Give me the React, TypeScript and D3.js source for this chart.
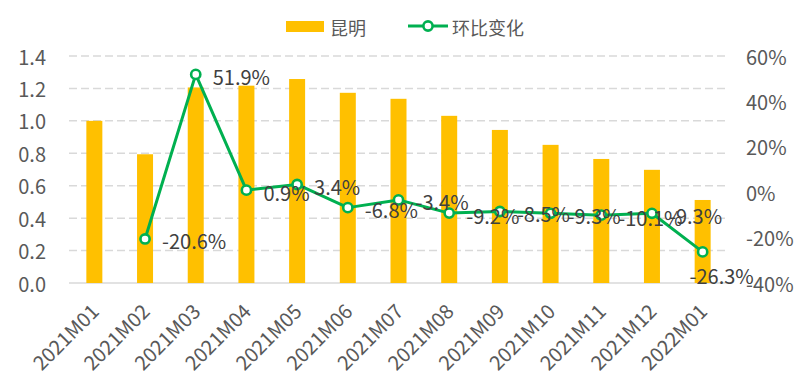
import React from "react";
import * as d3 from "d3";

/* DATA */
const categories = [
  "2021M01", "2021M02", "2021M03", "2021M04", "2021M05", "2021M06", "2021M07",
  "2021M08", "2021M09", "2021M10", "2021M11", "2021M12", "2022M01",
];
const kunming = [1.0, 0.794, 1.206, 1.217, 1.258, 1.173, 1.136, 1.031, 0.944, 0.852, 0.765, 0.698, 0.512];
// 环比变化, first month has no value
const momChange = [null, -0.206, 0.519, 0.009, 0.034, -0.068, -0.034, -0.092, -0.085, -0.093, -0.101, -0.093, -0.263];
const leftTicks = [0, 0.2, 0.4, 0.6, 0.8, 1.0, 1.2, 1.4];
const rightTicks = [-0.4, -0.2, 0, 0.2, 0.4, 0.6];
const seriesNames = ["昆明", "环比变化"];

const W = 799;
const H = 387;
const margin = { top: 56, bottom: 104, left: 69, right: 71 };
const BAR = "#FFC000";
const LINE = "#00B050";
const FONT = "'Noto Sans CJK SC', sans-serif";

function App() {
  const x = d3
    .scaleBand()
    .domain(categories)
    .range([margin.left, W - margin.right])
    .padding(0);
  const yL = d3.scaleLinear().domain([0, 1.4]).range([H - margin.bottom, margin.top]);
  const yR = d3.scaleLinear().domain([-0.4, 0.6]).range([H - margin.bottom, margin.top]);
  const barW = 16;
  const cx = (c: string) => (x(c) as number) + x.bandwidth() / 2;

  const pts = categories
    .map((c, i) => ({ c, v: momChange[i], i }))
    .filter((d) => d.v !== null) as { c: string; v: number; i: number }[];

  const line = d3
    .line<{ c: string; v: number }>()
    .x((d) => cx(d.c))
    .y((d) => yR(d.v));

  const pct = (v: number) => (v * 100).toFixed(1) + "%";
  const x0 = margin.left;
  const x1 = W - margin.right;

  return (
    <svg
      width={W}
      height={H}
      style={{ position: "absolute", left: 0, top: 0, background: "#fff" }}
      fontFamily={FONT}
    >
      {/* gridlines */}
      <g stroke="#D9D9D9" strokeWidth={1.5} strokeDasharray="8,4">
        {leftTicks.slice(1).map((t) => (
          <line key={t} x1={x0} x2={x1} y1={yL(t)} y2={yL(t)} />
        ))}
      </g>
      <line x1={x0} x2={x1} y1={yL(0)} y2={yL(0)} stroke="#D9D9D9" strokeWidth={1.5} />

      {/* left axis labels */}
      <g fill="#595959" fontSize={20} textAnchor="end">
        {leftTicks.map((t) => (
          <text key={t} x={46} y={yL(t)} dominantBaseline="central">
            {t.toFixed(1)}
          </text>
        ))}
      </g>
      {/* right axis labels */}
      <g fill="#595959" fontSize={20} textAnchor="start">
        {rightTicks.map((t) => (
          <text key={t} x={746} y={yR(t)} dominantBaseline="central">
            {Math.round(t * 100) + "%"}
          </text>
        ))}
      </g>

      {/* bars */}
      <g fill={BAR}>
        {categories.map((c, i) => (
          <rect key={c} x={cx(c) - barW / 2} y={yL(kunming[i])} width={barW} height={yL(0) - yL(kunming[i])} />
        ))}
      </g>

      {/* x labels */}
      <g fill="#595959" fontSize={20} textAnchor="end">
        {categories.map((c) => (
          <text key={c} transform={`translate(${cx(c) + 6},313) rotate(-45)`}>
            {c}
          </text>
        ))}
      </g>

      {/* line */}
      <path d={line(pts) || ""} fill="none" stroke={LINE} strokeWidth={3} strokeLinejoin="round" />
      {pts.map((d) => (
        <circle key={d.c} cx={cx(d.c)} cy={yR(d.v)} r={4.6} fill="#fff" stroke={LINE} strokeWidth={2.6} />
      ))}

      {/* data labels */}
      <g fill="#404040" fontSize={20}>
        {pts.map((d) => {
          const last = d.i === categories.length - 1;
          return (
            <text
              key={d.c}
              x={cx(d.c) + (last ? 19 : 17)}
              y={yR(d.v) + (last ? 24 : 2)}
              textAnchor={last ? "middle" : "start"}
              dominantBaseline="central"
            >
              {pct(d.v)}
            </text>
          );
        })}
      </g>

      {/* legend */}
      <g fontSize={18} fill="#595959">
        <rect x={286} y={21} width={38} height={11} fill={BAR} />
        <text x={330} y={27} dominantBaseline="central">{seriesNames[0]}</text>
        <line x1={408} x2={448} y1={26} y2={26} stroke={LINE} strokeWidth={3} />
        <circle cx={428} cy={26} r={4.6} fill="#fff" stroke={LINE} strokeWidth={2.6} />
        <text x={452} y={27} dominantBaseline="central">{seriesNames[1]}</text>
      </g>
    </svg>
  );
}

export default App;
